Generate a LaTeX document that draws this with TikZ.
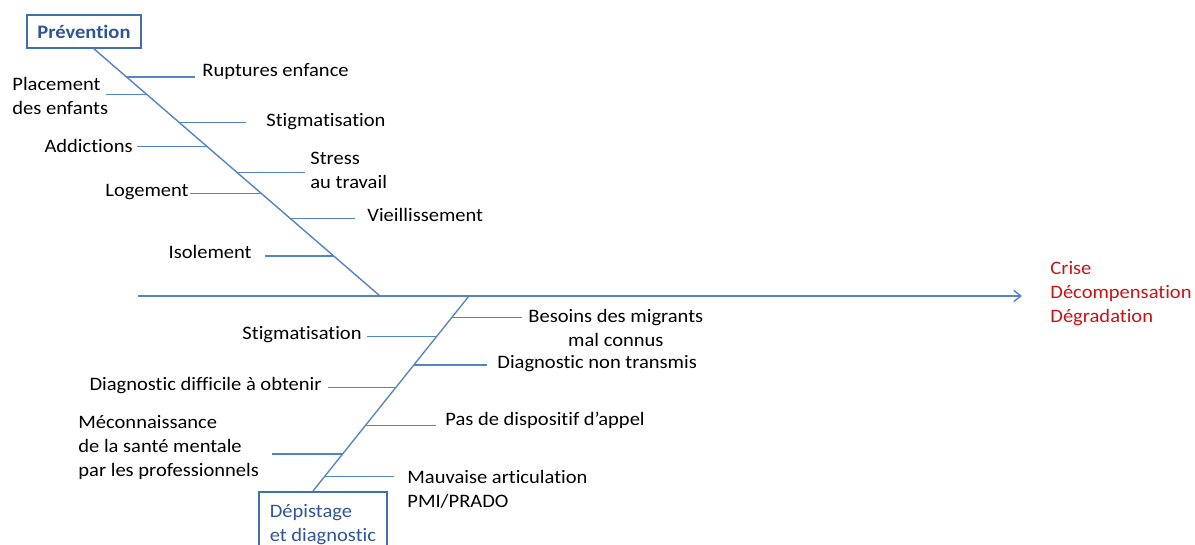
\documentclass[tikz,border=0pt]{standalone}
\usepackage{fontspec}
\setmainfont[FakeStretch=1.08,Ligatures=NoCommon]{Carlito}
\usetikzlibrary{arrows.meta}
\definecolor{bonecol}{RGB}{84,133,192}
\definecolor{boxline}{RGB}{65,113,170}
\definecolor{boxtext}{RGB}{47,85,151}
\definecolor{crisecol}{RGB}{200,20,20}
\tikzset{
  arete/.style={draw=bonecol, line width=0.7pt},
  cause/.style={inner sep=0pt, font=\fontsize{9.5}{12}\selectfont, align=left},
  titre/.style={draw=boxline, line width=0.9pt, text=boxtext, font=\fontsize{9.5}{12}\selectfont},
}
\begin{document}
\begin{tikzpicture}[x=0.5pt,y=-0.5pt]
\useasboundingbox (0,0) rectangle (1195,545);
\clip (0,0) rectangle (1195,545);
% cadres
\node[titre, font=\fontsize{9.5}{12}\selectfont\bfseries, minimum width=57pt, minimum height=16.5pt] (prev) at (84,31.5) {Prévention};
\node[titre, align=left, anchor=north west, minimum width=64pt, minimum height=33pt] (dep) at (258,491) {Dépistage\\et diagnostic};
\node[cause, anchor=west, text=crisecol] (crise) at (1050,293.5) {Crise\\Décompensation\\Dégradation};
% arete centrale
\coordinate (queue) at (138,296);
\coordinate (tete) at (1022,296);
\draw[arete, -{Straight Barb[length=3.5pt,width=5.5pt]}] (queue) -- (tete);
% aretes obliques
\coordinate (hs) at (93,48);
\coordinate (hj) at (380,296);
\coordinate (bj) at (469,296);
\coordinate (bs) at (313,491);
\draw[arete] (hs) -- (hj);
\draw[arete] (bj) -- (bs);
% causes prevention
\coordinate (h1) at (126,77);
\coordinate (h2) at (145.6,94.3);
\coordinate (h2s) at (106,94.3);
\coordinate (h3) at (178.6,122.7);
\coordinate (h4) at (206.5,146.7);
\coordinate (h5) at (236,172.3);
\coordinate (h6) at (260.7,193.3);
\coordinate (h7) at (289.7,218.3);
\coordinate (h8) at (333.5,256);
\node[cause, anchor=west] (rupt) at (202,72) {Ruptures enfance};
\node[cause, anchor=west] (plac) at (12,95.5) {Placement\\des enfants};
\node[cause, anchor=west] (stig1) at (266,122) {Stigmatisation};
\node[cause, anchor=east] (addi) at (133,146) {Addictions};
\node[cause, anchor=west] (stress) at (310,170) {Stress\\au travail};
\node[cause, anchor=east] (loge) at (189,192) {Logement};
\node[cause, anchor=west] (vieil) at (367,215) {Vieillissement};
\node[cause, anchor=east] (isol) at (252,252) {Isolement};
\draw[arete, shorten >=3.5pt] (h1) -- (h1 -| rupt.west);
\draw[arete] (h2s) -- (h2);
\draw[arete, shorten >=10pt] (h3) -- (h3 -| stig1.west);
\draw[arete, shorten <=2pt] (h4 -| addi.east) -- (h4);
\draw[arete, shorten >=2.5pt] (h5) -- (h5 -| stress.west);
\draw[arete, shorten <=0.5pt] (h6 -| loge.east) -- (h6);
\draw[arete, shorten >=6pt] (h7) -- (h7 -| vieil.west);
\draw[arete, shorten <=6.5pt] (h8 -| isol.east) -- (h8);
% causes depistage
\coordinate (b1) at (451.6,317.7);
\coordinate (b2) at (436.4,336.7);
\coordinate (b3) at (414,365);
\coordinate (b4) at (395.6,387.7);
\coordinate (b5) at (365.5,425.3);
\coordinate (b6) at (342.6,454);
\coordinate (b6s) at (272,454);
\coordinate (b7) at (324.4,476.7);
\node[cause, anchor=west, align=center] (besoin) at (528,327.5) {Besoins des migrants\\mal connus};
\node[cause, anchor=east] (stig2) at (362,335) {Stigmatisation};
\node[cause, anchor=west] (diagnt) at (497,364) {Diagnostic non transmis};
\node[cause, anchor=east] (diagdf) at (322,386) {Diagnostic difficile à obtenir};
\node[cause, anchor=west] (pasdisp) at (445,420) {Pas de dispositif d’appel};
\node[cause, anchor=west] (mecon) at (78,447) {Méconnaissance\\de la santé mentale\\par les professionnels};
\node[cause, anchor=west] (mauv) at (407,489) {Mauvaise articulation\\PMI/PRADO};
\draw[arete, shorten >=3pt] (b1) -- (b1 -| besoin.west);
\draw[arete, shorten <=2.5pt] (b2 -| stig2.east) -- (b2);
\draw[arete, shorten >=5pt] (b3) -- (b3 -| diagnt.west);
\draw[arete, shorten <=3pt] (b4 -| diagdf.east) -- (b4);
\draw[arete, shorten >=4.5pt] (b5) -- (b5 -| pasdisp.west);
\draw[arete] (b6s) -- (b6);
\draw[arete, shorten >=6.5pt] (b7) -- (b7 -| mauv.west);
\end{tikzpicture}
\end{document}
